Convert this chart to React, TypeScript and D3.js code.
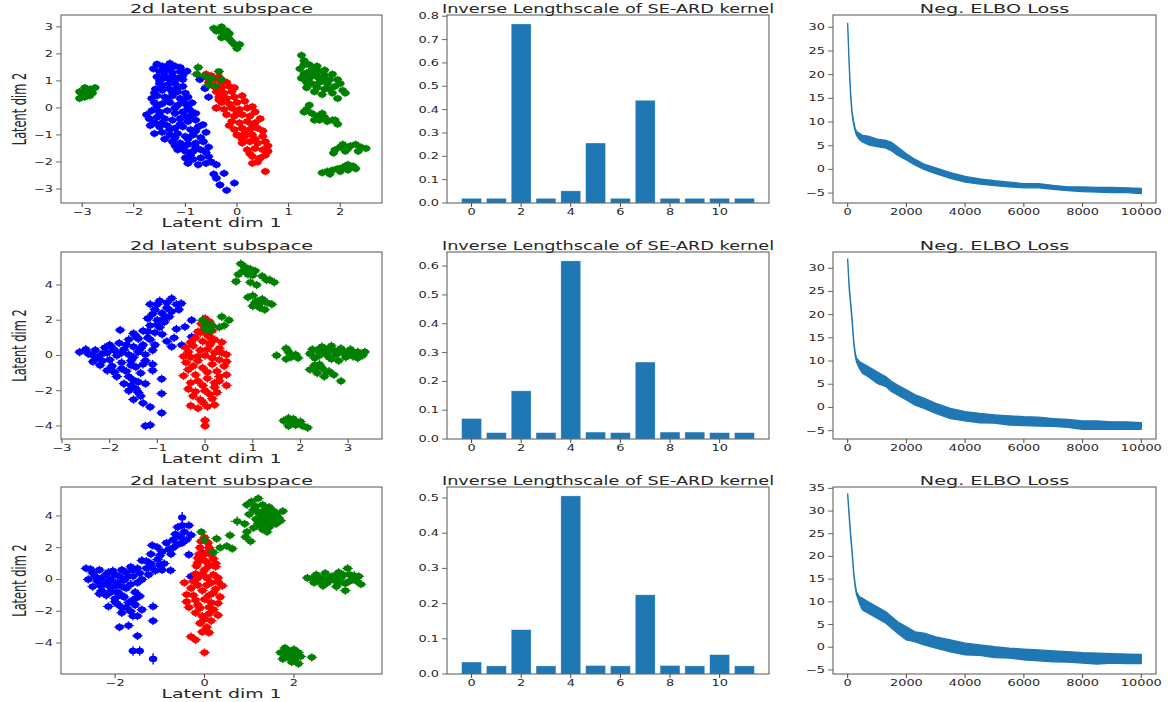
import React, { useEffect, useRef } from 'react'
import * as d3 from 'd3'

// the source raster was stretched sideways, so all horizontal text is widened
const S = 1.5
const FONT = 'DejaVu Sans, sans-serif'
const BLUE = '#1f77b4'

// ---------- row 1: latent scatter ----------
const blueA = [
  [-1.55, 1.62], [-1.45, 1.55], [-1.3, 1.65], [-1.2, 1.55], [-1.5, 1.35], [-1.38, 1.4], [-1.25, 1.3], [-1.1, 1.35], [-0.97, 1.36],
  [-1.55, 1.15], [-1.42, 1.1], [-1.3, 1.05], [-1.15, 1.1], [-1.5, 0.9], [-1.35, 0.85], [-1.2, 0.9], [-1.05, 0.8], [-1.5, 1.0], [-1.4, 1.2],
  [-0.72, 1.05], [-0.62, 0.72], [-0.55, 0.4], [-0.4, 0.0],
  [-1.58, 0.7], [-1.45, 0.65], [-1.3, 0.7], [-1.15, 0.6], [-1.0, 0.55], [-1.55, 0.45], [-1.4, 0.4], [-1.25, 0.45], [-1.1, 0.35],
  [-0.95, 0.4], [-1.6, 0.2], [-1.45, 0.15], [-1.3, 0.2], [-1.15, 0.1], [-1.0, 0.15], [-0.87, 0.19], [-1.25, 0.55], [-1.35, 0.3], [-1.15, 0.75],
  [-1.65, -0.1], [-1.5, -0.15], [-1.35, -0.1], [-1.2, -0.2], [-1.05, -0.15], [-0.9, -0.1], [-1.7, -0.4], [-1.55, -0.35], [-1.4, -0.4],
  [-1.25, -0.45], [-1.1, -0.4], [-0.95, -0.5], [-0.8, -0.45], [-1.68, -0.65], [-1.5, -0.7], [-1.35, -0.65], [-1.2, -0.75], [-1.05, -0.7],
  [-0.9, -0.8], [-0.75, -0.7], [-0.66, -0.62], [-1.6, -0.95], [-1.45, -0.9], [-1.3, -1.0], [-1.15, -0.95], [-1.0, -1.05], [-0.85, -1.0],
  [-0.7, -1.1], [-1.2, 0.0], [-1.45, -0.55], [-1.3, -0.8], [-1.1, -0.6], [-0.9, -0.3],
  [-1.25, -1.25], [-1.1, -1.3], [-0.95, -1.35], [-0.8, -1.3], [-0.65, -1.25], [-1.15, -1.55], [-1.0, -1.6], [-0.85, -1.6], [-0.7, -1.55],
  [-1.0, -1.85], [-0.85, -1.9], [-0.7, -1.85], [-0.55, -1.8], [-0.75, -2.1], [-0.6, -2.05], [-0.4, -2.1], [-1.05, -1.45], [-0.9, -1.75],
  [-0.45, -2.45], [-0.25, -2.42], [-0.4, -2.6], [-0.33, -2.85], [-0.05, -2.78], [-0.2, -3.05],
  [-1.62, 1.45], [-1.35, 1.55], [-1.1, 1.5], [-1.25, 1.15], [-1.05, 1.05], [-1.6, 0.55], [-1.05, 0.25], [-0.95, 0.0], [-1.55, 0.05],
  [-1.75, -0.25], [-1.6, -0.55], [-0.8, -0.85], [-0.6, -0.9], [-1.4, -1.15], [-1.2, -1.1], [-0.55, -1.45], [-1.2, -1.4], [-0.6, -1.65],
  [-0.95, -2.05], [-0.5, -2.0], [-0.8, -1.45], [-0.95, -1.15], [-1.5, -0.25], [-1.0, -0.3], [-0.8, -0.2], [-1.65, 0.35], [-1.45, 0.8],
  [-1.3, 1.45], [-1.05, 1.2],
]
const redA = [
  [-0.6, 1.25], [-0.5, 1.2], [-0.42, 1.05], [-0.55, 0.95], [-0.3, 0.95], [-0.45, 0.8], [-0.3, 0.75], [-0.15, 0.8], [-0.4, 0.6],
  [-0.25, 0.55], [-0.1, 0.6], [-0.35, 0.4], [-0.2, 0.35], [-0.05, 0.4], [-0.3, 0.2], [-0.15, 0.15], [0.0, 0.2], [0.15, 0.25],
  [-0.4, 0.0], [-0.25, -0.05], [-0.1, 0.0], [0.05, -0.05], [0.2, 0.0], [0.3, 0.05], [-0.2, -0.25], [-0.05, -0.3], [0.1, -0.25],
  [0.25, -0.3], [-0.1, -0.5], [0.05, -0.55], [0.2, -0.5], [0.35, -0.55], [-0.05, -0.8], [0.1, -0.75], [0.25, -0.8], [0.4, -0.75],
  [0.0, -1.0], [0.15, -1.05], [0.3, -1.0], [0.5, -1.05], [0.1, -1.3], [0.25, -1.25], [0.4, -1.3], [0.55, -1.25], [0.2, -1.55],
  [0.35, -1.5], [0.5, -1.55], [0.6, -1.6], [0.3, -1.8], [0.45, -1.85], [0.3, -2.05], [0.55, -2.35],
  [-0.55, 1.1], [-0.35, 1.15], [-0.2, 0.95], [-0.05, 0.75], [-0.35, 0.3], [0.1, 0.45], [0.0, -0.15], [0.35, -0.15], [0.45, -0.4],
  [-0.15, -0.65], [0.5, -0.85], [0.1, -1.15], [0.35, -1.15], [0.6, -1.4], [0.25, -1.7], [0.55, -1.75], [0.4, -2.0], [0.15, -0.95],
  [0.3, -0.65],
]
const greenA = [
  [-3.05, 0.35], [-3.0, 0.5], [-2.95, 0.4], [-2.9, 0.6], [-2.85, 0.7], [-2.8, 0.55], [-2.75, 0.75], [-2.95, 0.75], [-3.05, 0.6], [-2.85, 0.45],
  [-2.9, 0.45],
  [-0.45, 2.95], [-0.35, 2.85], [-0.3, 3.0], [-0.25, 2.75], [-0.2, 2.65], [-0.15, 2.55], [-0.1, 2.45], [-0.05, 2.35], [0.05, 2.35],
  [0.0, 2.2], [-0.3, 2.6], [-0.15, 2.75], [-0.4, 2.85], [-0.2, 2.85],
  [1.25, 1.95], [1.22, 1.45], [1.3, 1.6], [1.35, 1.3], [1.45, 1.4], [1.55, 1.55], [1.6, 1.35], [1.25, 1.1], [1.4, 1.1], [1.55, 1.15],
  [1.7, 1.2], [1.85, 1.25], [1.95, 1.05], [1.45, 0.9], [1.6, 0.95], [1.75, 0.9], [1.9, 0.8], [2.05, 0.65], [1.55, 0.75], [1.7, 0.7],
  [1.85, 0.55], [1.65, 0.5], [1.95, 0.35], [1.35, 0.75], [1.3, 1.75], [1.4, 1.6], [1.5, 1.25], [1.65, 1.05], [1.8, 1.05], [1.35, 0.95],
  [1.5, 0.6], [1.8, 0.7], [2.0, 0.9], [2.1, 0.55], [1.7, 1.4], [1.3, 1.25],
  [1.3, -0.15], [1.4, 0.1], [1.45, -0.2], [1.55, -0.3], [1.6, -0.45], [1.7, -0.35], [1.75, -0.5], [1.85, -0.45], [1.95, -0.6], [1.5, -0.45],
  [1.35, -0.05], [1.65, -0.2], [1.9, -0.45],
  [1.9, -1.55], [2.0, -1.45], [2.1, -1.6], [2.2, -1.4], [2.3, -1.35], [2.4, -1.45], [2.5, -1.5], [2.15, -1.5], [1.87, -1.67],
  [2.05, -1.35], [2.35, -1.6],
  [1.65, -2.4], [1.8, -2.45], [1.85, -2.3], [1.95, -2.25], [2.05, -2.2], [2.15, -2.1], [2.25, -2.15], [2.3, -2.25], [2.0, -2.35],
  [2.15, -2.3], [1.75, -2.35], [2.1, -2.15],
  [-0.75, 1.5, 0.1, 0.15], [-0.78, 1.25, 0.12, 0.15], [-0.62, 1.18, 0.12, 0.15], [-0.5, 1.1, 0.12, 0.15], [-0.3, 1.05, 0.12, 0.15],
  [-0.35, 1.35, 0.1, 0.12], [-0.55, 0.85, 0.12, 0.15], [-0.42, 0.82, 0.12, 0.15],
]

// ---------- row 2: latent scatter ----------
const blueB = [
  [-2.63, 0.19], [-2.45, 0.1], [-2.3, 0.3], [-2.25, -0.1], [-2.1, 0.45], [-2.05, 0.15], [-2.0, -0.25], [-1.95, -0.6], [-1.9, 0.3],
  [-1.85, 0.0], [-1.8, 0.7], [-1.78, 1.44], [-1.75, -0.4], [-1.7, 0.35], [-1.65, -0.9], [-1.6, 0.9], [-1.6, 0.05], [-1.55, -0.3],
  [-1.5, 0.5], [-1.45, -0.65], [-1.45, 1.1], [-1.4, 0.2], [-1.35, -1.0], [-1.3, 1.4], [-1.3, 0.6], [-1.25, -0.3], [-1.2, 1.0],
  [-1.15, 1.7], [-1.1, 0.3], [-1.05, 1.3], [-1.0, 2.0], [-0.95, 1.6], [-0.9, 2.4], [-0.85, 1.9], [-0.8, 2.7], [-0.75, 2.2],
  [-1.2, 2.1], [-1.05, 2.6], [-0.95, 3.1], [-0.7, 3.24], [-0.6, 2.9], [-0.5, 2.95], [-1.0, 2.9], [-0.9, 1.2], [-1.85, -1.2],
  [-1.7, -1.6], [-1.5, -1.4], [-1.6, -2.0], [-1.45, -1.9], [-1.35, -2.3], [-1.5, -2.5], [-1.3, -2.7], [-1.25, -1.6],
  [-2.2, -0.55], [-2.05, -0.85], [-1.9, -0.95], [-2.35, -0.35], [-0.91, -1.33], [-0.91, -2.16], [-0.91, -3.26], [-1.15, -2.92],
  [-1.25, -4.0], [-1.15, -3.95], [-1.1, -0.5], [-0.49, 0.59], [-0.28, 1.06], [-0.42, 1.63], [-0.28, 2.0], [-0.65, 1.0], [-0.7, 0.5],
  [-1.1, -0.85], [-1.25, 0.05], [-1.65, 0.6], [-2.0, 0.6],
  [-2.5, 0.35], [-2.35, 0.0], [-2.15, 0.1], [-2.15, -0.3], [-1.95, 0.45], [-1.75, 0.15], [-1.5, -0.1], [-1.35, 0.4], [-1.3, -0.5],
  [-1.55, -0.55], [-1.75, -0.75], [-1.6, -1.2], [-1.4, -1.5], [-1.55, -1.7], [-1.4, -2.1], [-1.15, 0.9], [-1.05, 0.6], [-1.4, 0.95],
  [-1.5, 1.25], [-1.2, 1.35], [-1.0, 1.75], [-0.85, 2.15], [-1.1, 2.35], [-0.7, 2.5], [-0.8, 3.0], [-0.55, 2.6], [-1.15, 2.9],
  [-0.6, 1.5], [-0.8, 0.8],
]
const redB = [
  [0.0, 2.1], [-0.08, 1.8], [0.1, 1.9], [0.0, 1.6], [-0.15, 1.35], [0.15, 1.4], [0.05, 1.15], [-0.2, 1.0], [0.2, 0.9], [-0.05, 0.8],
  [-0.25, 0.55], [0.1, 0.6], [0.3, 0.4], [-0.35, 0.2], [-0.1, 0.3], [0.2, 0.15], [0.45, 0.05], [-0.3, -0.1], [0.0, 0.0], [0.3, -0.25],
  [-0.4, -0.4], [-0.15, -0.3], [0.15, -0.5], [0.4, -0.6], [-0.35, -0.8], [-0.05, -0.7], [0.25, -0.9], [0.45, -1.1], [-0.45, -1.15],
  [-0.2, -1.1], [0.05, -1.3], [0.3, -1.45], [-0.3, -1.55], [-0.05, -1.7], [0.2, -1.8], [-0.2, -2.05], [0.1, -2.2], [-0.1, -2.5],
  [0.15, -2.45], [-0.3, -2.85], [-0.15, -3.0], [0.05, -2.9], [0.0, -3.68], [0.0, -4.0], [0.45, -1.7], [-0.4, 0.45], [0.35, 0.75],
  [-0.1, 1.3], [0.1, 1.05], [-0.3, 0.75], [0.05, 0.35], [0.35, 0.15], [-0.15, -0.05], [0.15, -0.15], [-0.25, -0.6], [0.05, -0.95],
  [0.3, -1.2], [-0.15, -1.45], [0.2, -1.55], [-0.35, -1.9], [0.0, -2.0], [0.25, -2.1], [-0.25, -2.3], [-0.05, -2.65], [0.2, -2.8],
  [0.45, -0.35], [-0.45, -0.05], [0.1, 0.7],
]
const greenB = [
  [0.75, 5.2], [0.85, 5.0], [0.95, 4.9], [1.05, 4.8], [0.7, 4.6], [0.9, 4.6], [1.2, 4.5], [1.35, 4.3], [0.65, 4.2], [0.95, 4.15],
  [1.08, 4.0], [1.29, 4.28], [1.45, 4.15], [0.8, 4.8], [1.0, 4.55],
  [0.9, 3.3], [1.0, 3.4], [1.1, 3.1], [1.2, 3.2], [1.3, 3.0], [1.4, 2.9], [1.0, 2.8], [1.15, 2.7], [1.25, 2.6], [1.05, 3.0],
  [1.1, 2.9], [1.2, 3.05],
  [-0.05, 2.0, 0.12, 0.3], [0.05, 1.8, 0.12, 0.3], [0.15, 1.7, 0.12, 0.3], [0.0, 1.5, 0.12, 0.3], [0.35, 2.2], [0.5, 2.0], [0.4, 1.7],
  [0.3, 1.6], [0.1, 1.4],
  [1.5, 0.0], [1.7, 0.4], [1.75, 0.2], [1.8, -0.1], [1.9, 0.05], [1.7, -0.2], [1.95, -0.15],
  [2.2, 0.1], [2.35, 0.3], [2.4, 0.0], [2.5, 0.4], [2.55, 0.15], [2.6, -0.1], [2.7, 0.3], [2.75, 0.05], [2.85, 0.4], [2.9, 0.15],
  [2.95, -0.1], [3.05, 0.35], [3.1, 0.1], [3.2, 0.2], [3.3, 0.0], [3.2, -0.15], [2.3, -0.15], [2.45, 0.5], [2.8, -0.3], [2.65, 0.55],
  [2.25, 0.35], [2.5, 0.15], [2.6, 0.25], [2.8, 0.15], [3.0, 0.2], [3.1, -0.05], [3.35, 0.2], [2.65, -0.2],
  [2.2, -0.8], [2.3, -0.55], [2.35, -1.0], [2.45, -0.7], [2.5, -1.2], [2.6, -0.9], [2.7, -1.1], [2.85, -1.45], [2.4, -0.5],
  [2.3, -0.8], [2.55, -0.95],
  [1.65, -3.7], [1.75, -3.55], [1.8, -3.8], [1.85, -3.6], [1.9, -3.95], [2.0, -3.75], [2.05, -4.0], [1.75, -4.0], [2.15, -4.1],
  [1.8, -3.7], [1.95, -3.85],
]

// ---------- row 3: latent scatter ----------
const blueC = [
  [-0.5, 3.9, 0.06, 0.35], [-0.35, 3.4], [-0.6, 3.3], [-0.45, 3.0], [-0.3, 2.8], [-0.55, 2.7], [-0.7, 2.5], [-0.4, 2.5], [-0.85, 2.3],
  [-0.6, 2.2], [-1.06, 2.04], [-0.8, 1.9], [-1.2, 1.6], [-1.0, 1.5], [-0.75, 1.6], [-1.4, 1.2], [-1.2, 1.0], [-0.9, 1.0],
  [-1.17, 2.15], [-0.35, 1.56], [-0.05, 1.68, 0.08, 0.3], [-0.3, 0.19],
  [-1.6, 0.6], [-1.3, 0.7], [-1.1, 0.55], [-0.95, 0.6], [-0.76, 0.57],
  [-2.65, 0.7], [-2.5, 0.4], [-2.35, 0.6], [-2.2, 0.3], [-2.05, 0.55], [-1.9, 0.2], [-1.75, 0.45], [-2.6, 0.0], [-2.4, -0.1],
  [-2.25, -0.3], [-2.1, 0.0], [-1.95, -0.2], [-1.8, -0.05], [-1.6, 0.2], [-1.5, -0.2], [-2.5, -0.45], [-2.3, -0.7], [-2.1, -0.5],
  [-1.95, -0.8], [-1.75, -0.55], [-1.55, -0.8], [-2.2, -1.0], [-2.0, -1.2], [-1.8, -1.1], [-1.6, -1.3], [-1.45, -1.05],
  [-2.15, -1.7], [-1.95, -1.55], [-1.75, -1.75], [-1.55, -1.6], [-1.4, -1.9], [-1.85, -2.1], [-1.65, -2.0], [-1.5, -2.3],
  [-1.15, -1.7], [-1.15, -2.6], [-1.9, -3.0], [-1.7, -2.9], [-1.5, -3.55], [-1.6, -4.5, 0.1, 0.3], [-1.45, -4.5, 0.1, 0.3],
  [-1.15, -5.0, 0.06, 0.35], [-1.0, 0.9], [-1.25, 0.3], [-1.4, 0.0],
  [-2.55, 0.65], [-2.45, 0.2], [-2.3, 0.1], [-2.15, 0.45], [-2.0, 0.3], [-1.85, 0.6], [-1.7, 0.2], [-2.35, -0.35], [-2.15, -0.15],
  [-2.0, -0.4], [-1.85, -0.45], [-1.65, -0.3], [-2.35, -0.9], [-2.1, -0.8], [-1.85, -1.0], [-1.7, -1.45], [-1.55, -1.2], [-2.0, -1.4],
  [-1.85, -1.75], [-1.6, -2.3], [-1.5, 0.7], [-1.2, 0.8], [-1.3, 1.15], [-1.05, 1.25], [-0.95, 1.75], [-0.7, 2.0], [-0.5, 2.3],
  [-0.65, 2.85], [-0.5, 3.4], [-1.45, 0.4], [-1.65, 0.8],
]
const redC = [
  [0.0, 2.65], [-0.08, 2.4], [0.08, 2.3], [-0.1, 2.0], [0.12, 1.85], [0.0, 1.6], [-0.15, 1.35], [0.2, 1.3], [0.05, 1.1],
  [-0.18, 0.85], [0.25, 0.8], [0.0, 0.6], [-0.2, 0.35], [0.2, 0.3], [0.05, 0.1], [-0.25, -0.1], [0.3, -0.15], [0.05, -0.35],
  [-0.3, -0.55], [-0.05, -0.7], [0.25, -0.6], [-0.4, -0.95], [0.1, -1.0], [0.35, -1.1], [-0.2, -1.3], [0.15, -1.45],
  [-0.35, -1.75], [-0.1, -1.8], [0.2, -1.9], [0.3, -2.25], [-0.05, -2.3], [0.15, -2.6], [-0.1, -2.75], [0.05, -3.0],
  [-0.05, -3.3], [0.1, -3.35], [-0.3, -3.6], [-0.2, -3.8], [0.0, -4.6], [-0.45, -0.2], [0.4, -0.4],
  [0.1, 2.0], [-0.12, 1.6], [0.15, 1.55], [-0.05, 1.3], [0.25, 1.0], [-0.15, 1.05], [0.1, 0.85], [-0.05, 0.35], [0.3, 0.1],
  [-0.15, 0.1], [0.15, -0.2], [-0.15, -0.35], [0.2, -0.85], [-0.25, -1.0], [0.0, -1.25], [0.3, -1.5], [-0.15, -1.6], [0.1, -1.75],
  [-0.2, -2.1], [0.1, -2.15], [0.0, -2.5], [-0.4, -1.4],
]
const greenC = [
  [1.2, 5.1], [1.05, 4.9], [0.95, 4.7], [1.3, 4.7], [1.1, 4.4], [1.35, 4.4], [1.55, 4.3], [1.75, 4.3], [1.0, 4.1], [1.25, 4.1],
  [1.45, 4.0], [1.65, 3.9], [1.15, 3.8], [1.35, 3.7], [1.55, 3.6], [1.25, 3.4], [1.45, 3.3], [1.6, 3.5], [1.4, 3.0], [0.9, 3.5],
  [0.73, 3.66, 0.15, 0.3], [0.95, 3.0], [0.92, 2.67], [1.03, 2.4], [0.57, 2.78], [0.62, 1.94], [0.5, 2.1], [0.35, 2.0],
  [0.27, 2.57], [0.2, 1.7], [-0.07, 2.99], [0.0, 2.5],
  [1.15, 4.6], [1.45, 4.55], [1.2, 4.25], [1.4, 4.2], [1.6, 4.1], [1.3, 3.9], [1.5, 3.85], [1.2, 3.55], [1.4, 3.5], [1.7, 3.7],
  [1.1, 3.25], [1.3, 3.15],
  [2.3, 0.1], [2.45, -0.2], [2.5, 0.3], [2.6, 0.05], [2.7, 0.4], [2.75, -0.2], [2.85, 0.2], [2.9, -0.05], [3.0, 0.45], [3.05, 0.1],
  [3.15, -0.25], [3.2, 0.7], [3.25, 0.3], [3.3, 0.0], [3.4, -0.1], [3.5, -0.3], [3.45, 0.2], [3.15, -0.7], [2.95, -0.45], [2.65, -0.4],
  [2.4, 0.05], [2.55, -0.1], [2.8, 0.05], [2.95, 0.25], [3.1, 0.3], [3.25, -0.1], [3.35, 0.25], [3.0, -0.2], [2.7, 0.15],
  [1.7, -4.6], [1.8, -4.3], [1.9, -4.5], [2.0, -4.4], [2.1, -4.6], [1.85, -4.8], [2.0, -4.9], [2.15, -4.85], [1.75, -5.0],
  [1.95, -5.2], [2.1, -5.3], [2.4, -4.9], [1.9, -4.7], [2.05, -4.65], [1.8, -4.55], [2.0, -5.05], [1.9, -4.95],
]

// ---------- inverse lengthscales ----------
const dims = [0, 1, 2, 3, 4, 5, 6, 7, 8, 9, 10, 11]
const lengthA = [0.02, 0.02, 0.767, 0.02, 0.052, 0.257, 0.02, 0.44, 0.02, 0.02, 0.02, 0.02]
const lengthB = [0.071, 0.022, 0.167, 0.022, 0.618, 0.024, 0.022, 0.267, 0.024, 0.024, 0.022, 0.022]
const lengthC = [0.034, 0.023, 0.126, 0.023, 0.506, 0.024, 0.023, 0.225, 0.024, 0.023, 0.055, 0.023]

// ---------- loss curves (lower / upper edge of the noisy trace) ----------
const lossSteps = [0, 50, 100, 150, 200, 250, 300, 400, 500, 700, 1000, 1300, 1500, 1700, 2000, 2300, 2600, 3000, 3500, 4000, 4500, 5000, 5500, 6000, 6500, 7000, 7500, 8000, 8500, 9000, 9500, 10000]
const lossLoA = [30.4, 22.0, 15.4, 11.6, 9.6, 8.2, 7.2, 6.3, 5.8, 5.2, 4.8, 4.5, 3.9, 3.0, 2.0, 0.9, 0.0, -0.9, -1.9, -2.7, -3.1, -3.4, -3.7, -3.9, -3.9, -4.2, -4.5, -4.7, -4.8, -4.9, -4.9, -5.1]
const lossHiA = [30.8, 22.6, 16.0, 12.2, 10.2, 8.8, 8.0, 7.6, 7.2, 7.0, 6.4, 6.1, 5.7, 4.7, 3.3, 2.1, 1.1, 0.3, -0.7, -1.5, -2.0, -2.4, -2.7, -3.0, -3.0, -3.4, -3.7, -3.7, -3.8, -3.8, -3.9, -4.0]
const lossLoB = [31.7, 25.7, 22.2, 18.6, 14.2, 11.4, 9.8, 8.4, 7.4, 6.6, 5.2, 4.5, 3.4, 2.7, 1.6, 0.5, -0.2, -1.3, -2.4, -2.9, -3.3, -3.4, -3.8, -3.9, -4.0, -4.1, -4.3, -4.7, -4.7, -4.7, -4.7, -4.7]
const lossHiB = [32.0, 26.3, 22.8, 19.2, 14.8, 12.0, 10.6, 9.9, 9.5, 8.8, 7.7, 6.6, 5.6, 4.8, 3.8, 2.7, 2.0, 0.9, -0.2, -0.9, -1.3, -1.6, -1.8, -2.0, -2.1, -2.4, -2.6, -2.9, -2.9, -3.1, -3.1, -3.3]
const lossLoC = [33.5, 28.8, 24.4, 20.8, 16.4, 13.5, 11.6, 9.7, 8.2, 7.5, 6.4, 5.3, 4.2, 3.1, 1.6, 1.2, 0.5, -0.2, -1.0, -1.7, -1.8, -2.3, -2.4, -2.8, -3.0, -3.2, -3.3, -3.5, -3.7, -3.5, -3.6, -3.6]
const lossHiC = [33.8, 29.4, 25.0, 21.4, 17.0, 14.1, 12.2, 11.1, 10.8, 10.0, 8.9, 7.8, 6.7, 5.6, 4.5, 3.4, 3.1, 2.3, 1.6, 0.9, 0.5, 0.1, -0.2, -0.4, -0.6, -0.8, -1.0, -1.2, -1.3, -1.4, -1.5, -1.6]

// ---------- axis ranges and ticks ----------
const colX = [[61, 382], [447, 769], [833, 1156]]
const rowY = [[15, 203], [252, 439], [487, 674]]

const scatterRows = [
  { blue: blueA, red: redA, green: greenA, xd: [-3.41, 2.81], yd: [-3.52, 3.44], xt: [-3, -2, -1, 0, 1, 2], yt: [-3, -2, -1, 0, 1, 2, 3], ex: 0.09, ey: 0.14 },
  { blue: blueB, red: redB, green: greenB, xd: [-3.02, 3.71], yd: [-4.74, 5.87], xt: [-3, -2, -1, 0, 1, 2, 3], yt: [-4, -2, 0, 2, 4], ex: 0.11, ey: 0.24 },
  { blue: blueC, red: redC, green: greenC, xd: [-3.21, 3.97], yd: [-5.95, 5.82], xt: [-2, 0, 2], yt: [-4, -2, 0, 2, 4], ex: 0.12, ey: 0.26 },
]
const barRows = [
  { vals: lengthA, yt: [0, 0.1, 0.2, 0.3, 0.4, 0.5, 0.6, 0.7, 0.8] },
  { vals: lengthB, yt: [0, 0.1, 0.2, 0.3, 0.4, 0.5, 0.6] },
  { vals: lengthC, yt: [0, 0.1, 0.2, 0.3, 0.4, 0.5] },
]
const barTicks = [0, 2, 4, 6, 8, 10]
const lossRows = [
  { lo: lossLoA, hi: lossHiA, yd: [-7.1, 32.6], yt: [-5, 0, 5, 10, 15, 20, 25, 30] },
  { lo: lossLoB, hi: lossHiB, yd: [-6.8, 33.5], yt: [-5, 0, 5, 10, 15, 20, 25, 30] },
  { lo: lossLoC, hi: lossHiC, yd: [-5.9, 35.3], yt: [-5, 0, 5, 10, 15, 20, 25, 30, 35] },
]
const lossTicks = [0, 2000, 4000, 6000, 8000, 10000]

const fmtInt = (v: number) => (v < 0 ? '\u2212' + Math.abs(v) : String(v))

function App() {
  const ref = useRef<SVGSVGElement>(null)

  useEffect(() => {
    const svg = d3.select(ref.current)
    svg.selectAll('*').remove()

    const text = (g: any, x: number, y: number, s: string, size: number, anchor: string, dy = '0') => {
      g.append('text')
        .attr('transform', `translate(${x},${y}) scale(${S},1)`)
        .attr('text-anchor', anchor)
        .attr('dy', dy)
        .attr('font-family', FONT)
        .attr('font-size', size)
        .attr('fill', '#262626')
        .text(s)
    }

    // frame, ticks and tick labels for one panel
    const frame = (g: any, x: any, y: any, xt: number[], yt: number[], fx: (v: number) => string, fy: (v: number) => string) => {
      const [l, r] = x.range()
      const [b, t] = y.range()
      xt.forEach((v) => {
        g.append('line').attr('x1', x(v)).attr('x2', x(v)).attr('y1', b).attr('y2', b + 4).attr('stroke', '#444').attr('stroke-width', 1)
        text(g, x(v), b + 11.5, fx(v), 8.6, 'middle')
      })
      yt.forEach((v) => {
        g.append('line').attr('x1', l - 5).attr('x2', l).attr('y1', y(v)).attr('y2', y(v)).attr('stroke', '#444').attr('stroke-width', 0.8)
        text(g, l - 8, y(v), fy(v), 8.6, 'end', '0.35em')
      })
      g.append('rect').attr('x', l).attr('y', t).attr('width', r - l).attr('height', b - t)
        .attr('fill', 'none').attr('stroke', '#555').attr('stroke-width', 1)
    }

    const title = (g: any, x: any, y: any, s: string, size: number) => {
      const [l, r] = x.range()
      text(g, (l + r) / 2, y.range()[1] - 2.5, s, size, 'middle')
    }

    // column 1: latent space scatter with error bars
    scatterRows.forEach((row, i) => {
      const g = svg.append('g')
      const x = d3.scaleLinear().domain(row.xd).range(colX[0])
      const y = d3.scaleLinear().domain(row.yd).range([rowY[i][1], rowY[i][0]])
      const groups: [string, number[][]][] = [['#0000ff', row.blue], ['#ff0000', row.red], ['#008000', row.green]]
      groups.forEach(([c, pts]) => {
        const pg = g.append('g')
        pts.forEach((p) => {
          const ex = p[2] ?? row.ex
          const ey = p[3] ?? row.ey
          pg.append('line').attr('x1', x(p[0] - ex)).attr('x2', x(p[0] + ex)).attr('y1', y(p[1])).attr('y2', y(p[1]))
            .attr('stroke', c).attr('stroke-width', 1)
          pg.append('line').attr('x1', x(p[0])).attr('x2', x(p[0])).attr('y1', y(p[1] - ey)).attr('y2', y(p[1] + ey))
            .attr('stroke', c).attr('stroke-width', 1.4)
          pg.append('ellipse').attr('cx', x(p[0])).attr('cy', y(p[1])).attr('rx', 4.2).attr('ry', 3.1).attr('fill', c)
        })
      })
      frame(g, x, y, row.xt, row.yt, fmtInt, fmtInt)
      title(g, x, y, '2d latent subspace', 12.8)
      text(g, (colX[0][0] + colX[0][1]) / 2, rowY[i][1] + 23.5, 'Latent dim 1', 12.6, 'middle')
      const cy = (rowY[i][0] + rowY[i][1]) / 2
      g.append('text')
        .attr('transform', `translate(26,${cy}) scale(1.7,1) rotate(-90)`)
        .attr('text-anchor', 'middle')
        .attr('font-family', FONT)
        .attr('font-size', 11.4)
        .attr('fill', '#262626')
        .text('Latent dim 2')
    })

    // column 2: inverse lengthscales
    barRows.forEach((row, i) => {
      const g = svg.append('g')
      const x = d3.scaleLinear().domain([-0.99, 11.99]).range(colX[1])
      const y = d3.scaleLinear().domain([0, (d3.max(row.vals) as number) * 1.05]).range([rowY[i][1], rowY[i][0]])
      g.selectAll('rect.bar').data(row.vals).join('rect').attr('class', 'bar')
        .attr('x', (_d: number, j: number) => x(dims[j] - 0.4))
        .attr('width', x(0.8) - x(0))
        .attr('y', (d: number) => y(d))
        .attr('height', (d: number) => y(0) - y(d))
        .attr('fill', BLUE)
        .attr('stroke', '#ffffff').attr('stroke-opacity', 0.5).attr('stroke-width', 0.6)
      frame(g, x, y, barTicks, row.yt, (v) => String(v), (v) => v.toFixed(1))
      title(g, x, y, 'Inverse Lengthscale of SE-ARD kernel', 11.8)
    })

    // column 3: negative ELBO loss
    lossRows.forEach((row, i) => {
      const g = svg.append('g')
      const x = d3.scaleLinear().domain([-500, 10500]).range(colX[2])
      const y = d3.scaleLinear().domain(row.yd).range([rowY[i][1], rowY[i][0]])
      const area = d3.area<number>()
        .x((_d, j) => x(lossSteps[j]))
        .y0((_d, j) => y(row.lo[j]))
        .y1((_d, j) => y(row.hi[j]))
      g.append('path').datum(row.lo).attr('d', area as any)
        .attr('fill', BLUE).attr('stroke', BLUE).attr('stroke-width', 1.3).attr('stroke-linejoin', 'round')
      frame(g, x, y, lossTicks, row.yt, (v) => String(v), fmtInt)
      title(g, x, y, 'Neg. ELBO Loss', 12.8)
    })
  }, [])

  return (
    <div style={{ position: 'fixed', left: 0, top: 0 }}>
      <svg ref={ref} width={1168} height={702} style={{ display: 'block', background: '#ffffff' }} />
    </div>
  )
}

export default App
